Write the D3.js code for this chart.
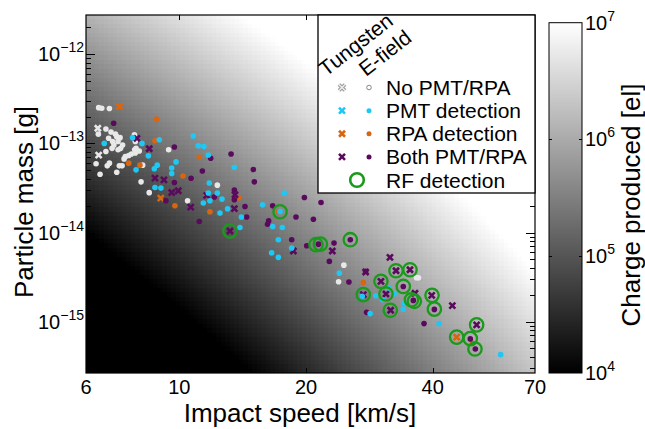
<!DOCTYPE html>
<html>
<head>
<meta charset="utf-8">
<script src="https://cdn.jsdelivr.net/npm/d3@7"></script>
<style>
  body { margin: 0; background: #fff; }
  svg text { font-family: "Liberation Sans", Arial, sans-serif; fill: #000; }
</style>
</head>
<body>
<div id="chart"></div>
<script>
// [impact speed km/s, particle mass g]
var noDetEfield = [[6.43,2.52e-13],[6.54,2.48e-13],[6.82,2.46e-13],[6.69,1.45e-13],[6.42,1.27e-13],[6.88,1.34e-13],
  [7.05,1.27e-13],[6.79,1.14e-13],[7.10,1.19e-13],[7.23,1.16e-13],[6.94,1.05e-13],[7.15,1.05e-13],[6.99,9.6e-14],
  [7.33,9.6e-14],[7.82,1.25e-13],[7.86,1.05e-13],[7.89,8.8e-14],[7.86,7.8e-14],[6.69,8.1e-14],[6.92,8.8e-14],
  [7.15,8.5e-14],[7.25,8.8e-14],[6.34,5.9e-14],[6.82,6.0e-14],[6.74,5.6e-14],[7.20,5.6e-14],[7.31,5.6e-14],
  [7.44,7.1e-14],[7.58,7.3e-14],[7.69,7.6e-14],[7.39,6.7e-14],[7.83,8.5e-14],[8.03,8.2e-14],[6.48,4.5e-14],
  [7.10,4.75e-14],[8.18,5.7e-14],[8.11,3.7e-14],[9.43,8.5e-14],[8.48,2.8e-14],[10.46,2.27e-14],[12.31,3.4e-14],
  [24.6,4.3e-15],[23.9,2.8e-15],[36.6,3.1e-15],[37.0,3.1e-15]];
var noDetTungsten = [[6.40,1.48e-13],[6.43,7.4e-14]];

var pmtEfield = [[6.63,1.0e-13],[7.74,1.16e-13],[8.15,1.0e-13],[8.96,1.10e-13],[8.44,7.25e-14],[8.72,5.2e-14],
  [8.86,5.7e-14],[10.79,1.21e-13],[11.09,9.4e-14],[11.44,9.2e-14],[11.72,7.4e-14],[13.51,5.4e-14],[9.82,6.2e-14],
  [9.59,5.3e-14],[9.59,4.6e-14],[7.89,5.05e-14],[11.78,3.6e-14],[8.75,3.2e-14],[9.04,3.15e-14],[11.72,2.77e-14],
  [12.31,2.77e-14],[12.63,2.37e-14],[11.40,2.14e-14],[11.82,2.27e-14],[13.02,1.85e-14],[12.49,1.65e-14],
  [14.04,1.49e-14],[13.93,1.14e-14],[15.77,2.05e-14],[17.76,2.77e-14],[17.35,1.72e-14],[16.66,1.17e-14],
  [17.57,1.14e-14],[17.19,8.3e-15],[18.49,6.7e-15],[16.57,5.9e-15],[17.19,5.26e-15],[24.0,3.5e-15],[27.2,1.92e-15],
  [29.3,1.95e-15],[30.4,1.76e-15],[31.5,2.38e-15],[32.4,2.06e-15],[34.2,1.62e-15],[34.05,1.38e-15],[28.4,1.23e-15],
  [41.4,9.5e-16],[58.0,4.26e-16]];
var pmtTungsten = [];

var rpaEfield = [[8.83,1.87e-13],[8.75,1.07e-13],[11.15,7.0e-14],[7.58,6.0e-14],[8.06,5.7e-14],[10.2,4.3e-14],
  [9.76,2.0e-14],[11.82,1.71e-14],[13.86,2.45e-14],[11.57,2.72e-14],[27.36,2.75e-15],[17.19,1.72e-14],[49.8,5.7e-16]];
var rpaTungsten = [[7.20,2.59e-13],[9.03,2.43e-14],[45.6,6.7e-16]];

var bothEfield = [[6.98,1.68e-13],[9.73,9.1e-14],[11.87,6.8e-14],[13.27,7.6e-14],[11.34,4.9e-14],[10.66,4.07e-14],
  [9.73,3.64e-14],[9.29,2.27e-14],[11.15,1.33e-14],[14.99,5.1e-14],[15.07,3.7e-14],[13.51,3.0e-14],[13.51,2.33e-14],
  [14.32,1.96e-14],[14.45,1.49e-14],[12.11,2.5e-14],[19.82,2.47e-14],[21.71,2.17e-14],[18.93,1.49e-14],
  [20.82,1.41e-14],[16.30,1.35e-14],[16.2,1.24e-14],[16.66,1.99e-14],[18.49,8.3e-15],[20.07,7.1e-15],[21.4,7.4e-15],
  [23.31,7.6e-15],[22.72,4.74e-15],[25.48,8.3e-15],[27.71,3.66e-15],[25.29,2.78e-15],[34.05,2.48e-15],
  [27.86,1.27e-15],[35.97,1.73e-15],[40.36,1.37e-15],[38.14,9.5e-16],[49.13,6.4e-16],[50.5,4.93e-16]];
var bothTungsten = [[7.93,1.14e-13],[8.48,8.7e-14],[8.75,4.07e-14],[9.19,3.9e-14],[9.59,2.81e-14],[9.94,2.94e-14],
  [10.64,1.93e-14],[11.61,2.61e-14],[13.56,2.65e-14],[13.51,1.85e-14],[13.19,1.04e-14],[18.66,6.2e-15],[23.09,6.2e-15],
  [31.65,5.26e-15],[27.71,3.6e-15],[30.13,2.83e-15],[32.72,3.72e-15],[35.32,3.82e-15],[30.97,2.04e-15],
  [27.36,2.01e-15],[31.77,1.34e-15],[36.3,2.08e-15],[39.78,1.97e-15],[44.53,1.51e-15],[50.86,9.2e-16]];

var rfDetected = [[17.35,1.71e-14],[13.19,1.04e-14],[21.12,7.3e-15],[21.63,7.4e-15],[25.48,8.3e-15],[27.36,2.01e-15],
  [30.13,2.83e-15],[30.97,2.04e-15],[32.72,3.72e-15],[35.32,3.82e-15],[34.05,2.48e-15],[35.6,1.76e-15],
  [36.17,1.69e-15],[31.71,1.34e-15],[39.85,1.97e-15],[40.36,1.38e-15],[50.86,9.2e-16],[45.6,6.7e-16],
  [49.13,6.45e-16],[50.4,4.93e-16]];

var xTicks = [6, 10, 20, 40, 70];
var yTicks = [1e-15, 1e-14, 1e-13, 1e-12];
var cTicks = [1e4, 1e5, 1e6, 1e7];
var legendLabels = ["No PMT/RPA", "PMT detection", "RPA detection", "Both PMT/RPA", "RF detection"];
var classColors = ["#e8e8e8", "#1ec8f5", "#d9660f", "#5a0a5c"];
var rfColor = "#1a9a1a";

var svg = d3.select("#chart").append("svg")
    .attr("width", 645)
    .attr("height", 429);

var x = d3.scaleLog().domain([6, 70]).range([86, 535]),
    y = d3.scaleLog().domain([2.65e-16, 2.76e-12]).range([373, 15]),
    cy = d3.scaleLog().domain([1e4, 1e7]).range([373, 22.7]),
    gray = d3.scaleLog().domain([1e4, 1e7]).range([0, 255]).clamp(true);

// charge map (fit to the background shading), in log space of speed and mass
function chargeAt(v, m) {
  var u = Math.log(v / 6) / Math.log(70 / 6);
  var w = Math.log(m / 2.65e-16) / Math.log(2.76e-12 / 2.65e-16);
  var g = -0.45 + 1.22 * u + 1.15 * w - 0.345 * u * w;
  return Math.pow(10, 4 + 3 * g);
}

var cols = 100, rows = 80;
var canvas = document.createElement("canvas");
canvas.width = cols; canvas.height = rows;
var ctx = canvas.getContext("2d");
var img = ctx.createImageData(cols, rows);
for (var j = 0; j < rows; j++) {
  for (var i = 0; i < cols; i++) {
    var px = 86 + (i + 0.5) * 449 / cols, py = 15 + (j + 0.5) * 358 / rows;
    var g = Math.round(gray(chargeAt(x.invert(px), y.invert(py))));
    var k = 4 * (j * cols + i);
    img.data[k] = img.data[k + 1] = img.data[k + 2] = g;
    img.data[k + 3] = 255;
  }
}
ctx.putImageData(img, 0, 0);

svg.append("image")
    .attr("href", canvas.toDataURL())
    .attr("x", 86).attr("y", 15)
    .attr("width", 449).attr("height", 358)
    .attr("preserveAspectRatio", "none")
    .style("image-rendering", "pixelated");

// markers
var xPath = "M-3,-3L3,3M-3,3L3,-3";
var marks = svg.append("g");

function dots(data, color) {
  marks.selectAll(null).data(data).enter().append("circle")
      .attr("cx", function(d) { return x(d[0]); })
      .attr("cy", function(d) { return y(d[1]); })
      .attr("r", 2.8)
      .attr("fill", color);
}
function crosses(data, color) {
  marks.selectAll(null).data(data).enter().append("path")
      .attr("transform", function(d) { return "translate(" + x(d[0]) + "," + y(d[1]) + ")"; })
      .attr("d", xPath)
      .attr("stroke", color)
      .attr("stroke-width", 2.6)
      .attr("fill", "none");
}

dots(noDetEfield, classColors[0]);
crosses(noDetTungsten, classColors[0]);
dots(rpaEfield, classColors[2]);
crosses(rpaTungsten, classColors[2]);
dots(bothEfield, classColors[3]);
crosses(bothTungsten, classColors[3]);
dots(pmtEfield, classColors[1]);
crosses(pmtTungsten, classColors[1]);

marks.selectAll(null).data(rfDetected).enter().append("circle")
    .attr("cx", function(d) { return x(d[0]); })
    .attr("cy", function(d) { return y(d[1]); })
    .attr("r", 6.7)
    .attr("fill", "none")
    .attr("stroke", rfColor)
    .attr("stroke-width", 2.3);

// frame and ticks
var axes = svg.append("g").attr("stroke", "#000").attr("fill", "none");
axes.append("rect")
    .attr("x", 86).attr("y", 15).attr("width", 449).attr("height", 358)
    .attr("stroke-width", 1.2);

var yMinor = [];
for (var e = -16; e <= -12; e++) {
  for (var n = 1; n <= 9; n++) {
    var val = n * Math.pow(10, e);
    if (val >= y.domain()[0] && val <= y.domain()[1]) yMinor.push(val);
  }
}
axes.selectAll(null).data(yMinor).enter().append("path")
    .attr("stroke-width", 1)
    .attr("d", function(d) {
      var len = Math.abs(Math.log10(d) - Math.round(Math.log10(d))) < 1e-6 ? 9 : 5;
      var yy = Math.round(y(d)) + 0.5;
      return "M86," + yy + "h" + len + "M535," + yy + "h" + (-len);
    });

axes.selectAll(null).data(xTicks.slice(1, -1)).enter().append("path")
    .attr("stroke-width", 1)
    .attr("d", function(d) {
      var xx = Math.round(x(d)) + 0.5;
      return "M" + xx + ",15v5M" + xx + ",373v-5";
    });

// tick labels
svg.append("g").selectAll("text").data(xTicks).enter().append("text")
    .attr("x", function(d) { return x(d); })
    .attr("y", 394)
    .attr("text-anchor", "middle")
    .style("font-size", "20px")
    .text(function(d) { return d; });

function powLabel(sel, d) {
  sel.append("tspan").text("10");
  sel.append("tspan")
      .attr("dy", -9)
      .style("font-size", "14px")
      .text(String(Math.round(Math.log10(d))).replace("-", "\u2212"));
}

svg.append("g").selectAll("text").data(yTicks).enter().append("text")
    .attr("x", 84)
    .attr("y", function(d) { return y(d) + 7; })
    .attr("text-anchor", "end")
    .style("font-size", "20px")
    .each(function(d) { powLabel(d3.select(this), d); });

// colour bar
var grad = svg.append("defs").append("linearGradient")
    .attr("id", "cbar")
    .attr("x1", 0).attr("y1", 1).attr("x2", 0).attr("y2", 0);
grad.append("stop").attr("offset", 0).attr("stop-color", "#000");
grad.append("stop").attr("offset", 1).attr("stop-color", "#fff");

svg.append("rect")
    .attr("x", 549).attr("y", cy(1e7))
    .attr("width", 33).attr("height", cy(1e4) - cy(1e7))
    .attr("fill", "url(#cbar)")
    .attr("stroke", "#000")
    .attr("stroke-width", 1);

svg.append("g").attr("stroke", "#000").selectAll("path").data(cTicks.slice(1, -1)).enter().append("path")
    .attr("d", function(d) {
      var yy = Math.round(cy(d)) + 0.5;
      return "M549," + yy + "h3M582," + yy + "h-3";
    });

svg.append("g").selectAll("text").data(cTicks).enter().append("text")
    .attr("x", 585)
    .attr("y", function(d) { return cy(d) + 7; })
    .style("font-size", "20px")
    .each(function(d) { powLabel(d3.select(this), d); });

// axis titles
svg.append("text")
    .attr("x", 300).attr("y", 422)
    .attr("text-anchor", "middle")
    .style("font-size", "26px")
    .text("Impact speed [km/s]");

svg.append("text")
    .attr("transform", "translate(33,202) rotate(-90)")
    .attr("text-anchor", "middle")
    .style("font-size", "26px")
    .text("Particle mass [g]");

svg.append("text")
    .attr("transform", "translate(640,205) rotate(-90)")
    .attr("text-anchor", "middle")
    .style("font-size", "26px")
    .text("Charge produced [el]");

// legend
var legend = svg.append("g");
legend.append("rect")
    .attr("x", 318).attr("y", 15).attr("width", 217).attr("height", 178)
    .attr("fill", "#fff")
    .attr("stroke", "#000")
    .attr("stroke-width", 1.3);

legend.append("text")
    .attr("transform", "translate(326,77) rotate(-38)")
    .style("font-size", "21px")
    .text("Tungsten");
legend.append("text")
    .attr("transform", "translate(366,77) rotate(-38)")
    .style("font-size", "21px")
    .text("E-field");

var rowY = d3.scalePoint().domain(legendLabels).range([87.5, 180]);

legend.selectAll(null).data(legendLabels).enter().append("text")
    .attr("x", 386)
    .attr("y", function(d) { return rowY(d) + 7.5; })
    .style("font-size", "21px")
    .text(function(d) { return d; });

legendLabels.slice(0, 4).forEach(function(lab, i) {
  var ly = rowY(lab);
  if (i === 0) {
    legend.append("path")
        .attr("transform", "translate(342," + ly + ")")
        .attr("d", xPath).attr("stroke", "#999").attr("stroke-width", 3.6);
    legend.append("path")
        .attr("transform", "translate(342," + ly + ")")
        .attr("d", xPath).attr("stroke", "#ececec").attr("stroke-width", 1.6);
    legend.append("circle")
        .attr("cx", 369).attr("cy", ly).attr("r", 2.3)
        .attr("fill", "#fff").attr("stroke", "#888").attr("stroke-width", 1);
  } else {
    legend.append("path")
        .attr("transform", "translate(342," + ly + ")")
        .attr("d", xPath).attr("stroke", classColors[i]).attr("stroke-width", 2.6);
    legend.append("circle")
        .attr("cx", 369).attr("cy", ly).attr("r", 2.5)
        .attr("fill", classColors[i]);
  }
});

legend.append("circle")
    .attr("cx", 357).attr("cy", rowY(legendLabels[4]))
    .attr("r", 6.8)
    .attr("fill", "none")
    .attr("stroke", rfColor)
    .attr("stroke-width", 2.6);
</script>
</body>
</html>
